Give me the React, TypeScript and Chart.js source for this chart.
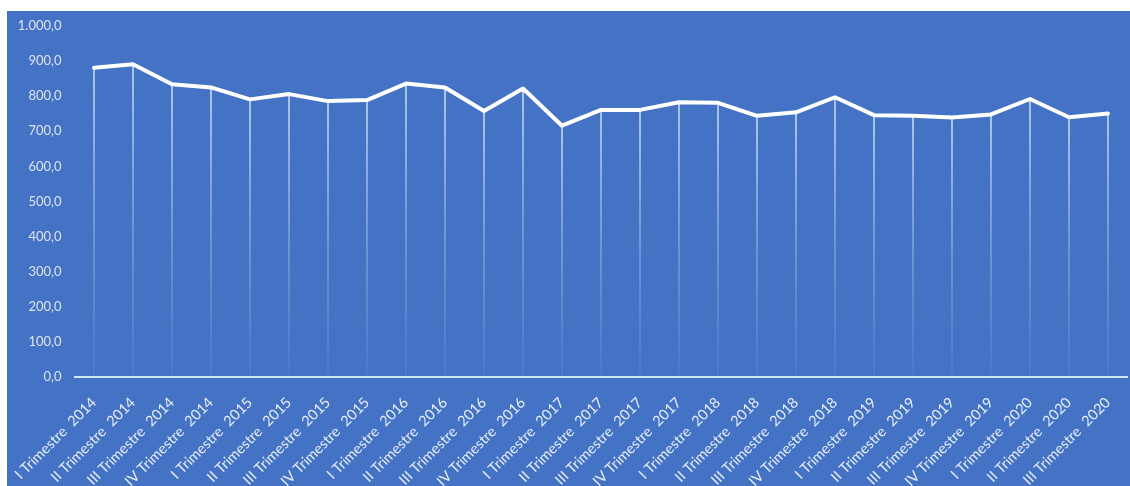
import React, { useEffect, useRef } from "react";
import { Chart, registerables } from "chart.js";

Chart.register(...registerables);

const categories = [
  "I Trimestre  2014", "II Trimestre  2014", "III Trimestre  2014", "IV Trimestre  2014",
  "I Trimestre  2015", "II Trimestre  2015", "III Trimestre  2015", "IV Trimestre  2015",
  "I Trimestre  2016", "II Trimestre  2016", "III Trimestre  2016", "IV Trimestre  2016",
  "I Trimestre  2017", "II Trimestre  2017", "III Trimestre  2017", "IV Trimestre  2017",
  "I Trimestre  2018", "II Trimestre  2018", "III Trimestre  2018", "IV Trimestre  2018",
  "I Trimestre  2019", "II Trimestre  2019", "III Trimestre  2019", "IV Trimestre  2019",
  "I Trimestre  2020", "II Trimestre  2020", "III Trimestre  2020",
];

const values = [
  881, 891, 834, 825, 791, 806, 786, 789, 836, 825, 758, 822, 716, 761,
  761, 783, 781, 744, 754, 797, 746, 744, 739, 748, 792, 740, 751,
];

const yMin = 0;
const yMax = 1000;
const yStep = 100;

function formatIt(v: number): string {
  const fixed = v.toFixed(1);
  const [intPart, dec] = fixed.split(".");
  const grouped = intPart.replace(/\B(?=(\d{3})+(?!\d))/g, ".");
  return grouped + "," + dec;
}

const dropLines = {
  id: "dropLines",
  beforeDatasetsDraw(chart: any) {
    const meta = chart.getDatasetMeta(0);
    const yScale = chart.scales.y;
    const base = yScale.getPixelForValue(0);
    const ctx = chart.ctx;
    ctx.save();
    meta.data.forEach((pt: any) => {
      const g = ctx.createLinearGradient(0, pt.y, 0, base);
      g.addColorStop(0, "rgba(215,232,248,0.95)");
      g.addColorStop(0.5, "rgba(200,222,245,0.45)");
      g.addColorStop(1, "rgba(200,222,245,0.08)");
      ctx.strokeStyle = g;
      ctx.lineWidth = 1.5;
      ctx.beginPath();
      ctx.moveTo(pt.x, pt.y);
      ctx.lineTo(pt.x, base);
      ctx.stroke();
    });
    ctx.restore();
  },
};

export default function App() {
  const ref = useRef<HTMLCanvasElement | null>(null);
  useEffect(() => {
    if (!ref.current) return;
    const chart = new Chart(ref.current, {
      type: "line",
      data: {
        labels: categories,
        datasets: [
          {
            data: values,
            borderColor: "#ffffff",
            borderWidth: 4,
            borderJoinStyle: "round",
            borderCapStyle: "round",
            pointRadius: 0,
            tension: 0,
            fill: false,
          },
        ],
      },
      options: {
        animation: false,
        responsive: false,
        layout: { padding: { top: 15, right: 2.5, left: 0, bottom: 0 } },
        plugins: { legend: { display: false }, tooltip: { enabled: false } },
        scales: {
          x: {
            offset: true,
            grid: { display: false, drawTicks: false },
            border: { display: true, color: "#cde8f6", width: 2 },
            ticks: {
              minRotation: 45,
              maxRotation: 45,
              autoSkip: false,
              padding: 17,
              color: "#e6eef8",
              font: { family: "Lato", size: 14.5 },
            },
            afterFit: (s: any) => {
              s.height = 109;
              s.paddingLeft = 0;
              s.paddingRight = 0;
            },
          },
          y: {
            min: yMin,
            max: yMax,
            grid: { display: false, drawTicks: false },
            border: { display: false },
            ticks: {
              stepSize: yStep,
              padding: 13,
              color: "#dde4ef",
              font: { family: "Lato", size: 13 },
              callback: (v: any) => formatIt(Number(v)),
            },
            afterFit: (s: any) => {
              s.width = 67.5;
              s.paddingTop = 0;
              s.paddingBottom = 0;
            },
          },
        },
      },
      plugins: [dropLines],
    });
    return () => chart.destroy();
  }, []);
  return (
    <div
      style={{
        position: "absolute",
        left: 7,
        top: 11,
        width: 1123,
        height: 475,
        overflow: "hidden",
        background: "#4472C4",
      }}
    >
      <canvas ref={ref} width={1123} height={475} style={{ display: "block" }} />
    </div>
  );
}
